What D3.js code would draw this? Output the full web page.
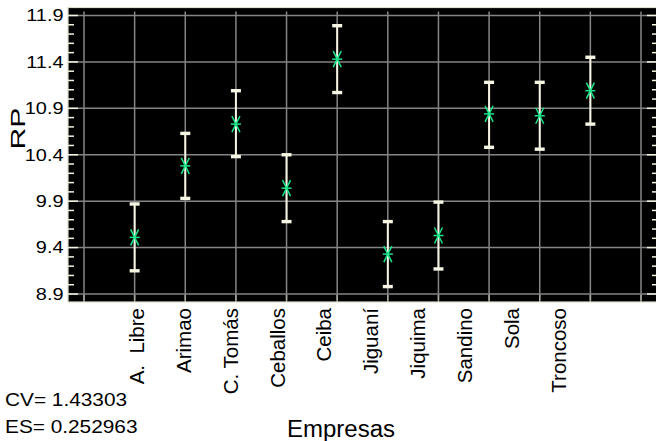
<!DOCTYPE html>
<html>
<head>
<meta charset="utf-8">
<script src="https://cdn.jsdelivr.net/npm/d3@7/dist/d3.min.js"></script>
<style>
  html, body { margin: 0; padding: 0; background: #ffffff; }
  svg { display: block; font-family: "Liberation Sans", Arial, sans-serif; }
  text { white-space: pre; }
</style>
</head>
<body>
<svg id="chart" width="656" height="441"></svg>
<script>
// ---- data ----
const categories = ["A.  Libre", "Arimao", "C. Tomás", "Ceballos", "Ceiba", "Jiguaní", "Jiquima", "Sandino", "Sola", "Troncoso"];
const means = [9.51, 10.28, 10.73, 10.04, 11.43, 9.33, 9.53, 10.84, 10.82, 11.09];
const upper = [9.87, 10.63, 11.09, 10.40, 11.79, 9.68, 9.89, 11.18, 11.18, 11.45];
const lower = [9.15, 9.93, 10.38, 9.68, 11.07, 8.98, 9.17, 10.48, 10.46, 10.73];
const yTickValues = [8.9, 9.4, 9.9, 10.4, 10.9, 11.4, 11.9];
const yTickLabels = ["8.9", "9.4", "9.9", "10.4", "10.9", "11.4", "11.9"];
const statsLines = ["CV= 1.43303", "ES= 0.252963"];
const xTitle = "Empresas";
const yTitle = "RP";

// ---- layout ----
const svg = d3.select("#chart");
const L = 68, R = 657, T = 7.5, B = 302;
const x = d3.scaleLinear().domain([-0.316, 11.316]).range([L, R]);
const xLab = d3.scaleLinear().domain([1, 10]).range([136.7, 558.3]);
const y = d3.scaleLinear().domain([8.814, 11.986]).range([B, T]);

const cream = "#f6f4e2";
const gridCol = "#858585";
const green = "#1ae68a";

// plot background
svg.append("rect").attr("x", L).attr("y", T).attr("width", R - L).attr("height", B - T)
  .attr("fill", "#000000");

// gridlines
const xGridIdx = d3.range(0, 12);
svg.append("g").selectAll("line").data(xGridIdx).join("line")
  .attr("x1", d => x(d)).attr("x2", d => x(d))
  .attr("y1", T + 4).attr("y2", B - 2)
  .attr("stroke", gridCol).attr("stroke-width", 1.5);
svg.append("g").selectAll("line").data(yTickValues).join("line")
  .attr("x1", L).attr("x2", R)
  .attr("y1", d => y(d)).attr("y2", d => y(d))
  .attr("stroke", gridCol).attr("stroke-width", 1.5);

// minor / major ticks left and right
const minor = d3.range(0, 31).map(k => +(8.9 + k * 0.1).toFixed(2)).filter(v => !yTickValues.some(t => Math.abs(t - v) < 1e-6));
const tg = svg.append("g");
tg.selectAll(".mjl").data(yTickValues).join("line")
  .attr("x1", L).attr("x2", L + 10).attr("y1", d => y(d)).attr("y2", d => y(d))
  .attr("stroke", cream).attr("stroke-width", 1.5);
tg.selectAll(".mnl").data(minor).join("line").attr("class", "mnl")
  .attr("x1", L).attr("x2", L + 6).attr("y1", d => y(d)).attr("y2", d => y(d))
  .attr("stroke", cream).attr("stroke-width", 1.5);
tg.selectAll(".mjr").data(yTickValues).join("line").attr("class", "mjr")
  .attr("x1", R - 10).attr("x2", R).attr("y1", d => y(d)).attr("y2", d => y(d))
  .attr("stroke", cream).attr("stroke-width", 1.5);
tg.selectAll(".mnr").data(minor).join("line").attr("class", "mnr")
  .attr("x1", R - 5).attr("x2", R).attr("y1", d => y(d)).attr("y2", d => y(d))
  .attr("stroke", cream).attr("stroke-width", 1.5);
// bottom ticks
tg.selectAll(".bt").data(xGridIdx).join("line").attr("class", "bt")
  .attr("x1", d => x(d)).attr("x2", d => x(d)).attr("y1", B).attr("y2", B - 7)
  .attr("stroke", "#a8a8a0").attr("stroke-width", 1.5);

// border
svg.append("rect").attr("x", L).attr("y", T).attr("width", R - L).attr("height", B - T)
  .attr("fill", "none").attr("stroke", "#e2e0cc").attr("stroke-width", 1.2);

// error bars
const idx = d3.range(categories.length);
const eb = svg.append("g");
eb.selectAll(".v").data(idx).join("line").attr("class", "v")
  .attr("x1", i => x(i + 1)).attr("x2", i => x(i + 1))
  .attr("y1", i => y(upper[i])).attr("y2", i => y(lower[i]))
  .attr("stroke", cream).attr("stroke-width", 2);
eb.selectAll(".cu").data(idx).join("rect").attr("class", "cu")
  .attr("x", i => x(i + 1) - 5).attr("width", 10)
  .attr("y", i => y(upper[i]) - 1.7).attr("height", 3.4).attr("fill", cream);
eb.selectAll(".cl").data(idx).join("rect").attr("class", "cl")
  .attr("x", i => x(i + 1) - 5).attr("width", 10)
  .attr("y", i => y(lower[i]) - 1.7).attr("height", 3.4).attr("fill", cream);

// star markers
const stars = svg.append("g").selectAll("g").data(idx).join("g")
  .attr("transform", i => `translate(${x(i + 1)},${y(means[i])})`);
[[-5, 0, 5, 0], [-4, -8, 4, 8], [4, -8, -4, 8]].forEach(s => {
  stars.append("line").attr("x1", s[0]).attr("y1", s[1]).attr("x2", s[2]).attr("y2", s[3])
    .attr("stroke", green).attr("stroke-width", 1.5);
});

// y tick labels
svg.append("g").selectAll("text").data(yTickValues).join("text")
  .attr("transform", d => `translate(63.5,${y(d)}) scale(1.22,1)`)
  .attr("text-anchor", "end").attr("dy", "0.36em")
  .attr("font-size", 16.3).attr("fill", "#000")
  .text((d, i) => yTickLabels[i]);

// x tick labels
svg.append("g").selectAll("text").data(idx).join("text")
  .attr("transform", i => `translate(${xLab(i + 1)},308) rotate(-90)`)
  .attr("text-anchor", "end").attr("dy", "0.36em")
  .attr("font-size", 20.5).attr("fill", "#000")
  .text(i => categories[i]);

// axis titles
svg.append("text")
  .attr("transform", "translate(25,128.5) rotate(-90)")
  .attr("text-anchor", "middle").attr("font-size", 21)
  .attr("textLength", 42).attr("lengthAdjust", "spacingAndGlyphs")
  .text(yTitle);
svg.append("text")
  .attr("x", 341).attr("y", 436.5).attr("text-anchor", "middle").attr("font-size", 23)
  .attr("textLength", 108).attr("lengthAdjust", "spacingAndGlyphs")
  .text(xTitle);

// stats
svg.append("text").attr("transform", "translate(5,406) scale(1.19,1)")
  .attr("font-size", 17.5).text(statsLines[0]);
svg.append("text").attr("transform", "translate(5,433) scale(1.19,1)")
  .attr("font-size", 17.5).text(statsLines[1]);
</script>
</body>
</html>
